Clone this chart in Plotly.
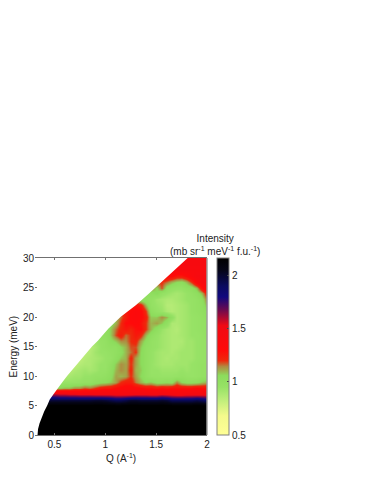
import plotly.graph_objects as go

Q = [0.35,0.40,0.45,0.50,0.55,0.60,0.65,0.70,0.75,0.80,0.85,0.90,0.95,1.00,1.05,1.10,1.15,
     1.20,1.25,1.30,1.35,1.40,1.45,1.50,1.55,1.60,1.65,1.70,1.75,1.80,1.85,1.90,1.95,2.00,2.05]
E = [float(i) for i in range(31)]
K = 2.2
# intensity rows, from E = 0.5 up to E = 29.5
row_00 = [K]*34
row_01 = [K]*34
row_02 = [K]*34
row_03 = [K]*34
row_04 = [K]*34
row_05 = [K]*34
row_06 = [1.98,1.98,1.98,1.98,1.98,1.98,1.98,1.98,1.98,1.98,1.98,2.0,2.0,1.98,1.95,1.92,1.92,1.95,2.0,2.0,1.98,1.98,1.98,1.98,2.0,1.98,1.92,1.92,1.92,1.92,1.92,1.95,1.92,1.88]
row_07 = [1.6,1.6,1.6,1.6,1.56,1.56,1.54,1.54,1.52,1.52,1.52,1.5,1.5,1.5,1.5,1.48,1.48,1.48,1.48,1.5,1.5,1.5,1.48,1.48,1.52,1.5,1.48,1.46,1.46,1.48,1.48,1.48,1.48,1.48]
row_08 = [1.08,1.08,1.08,1.08,1.08,1.1,1.1,1.14,1.14,1.18,1.16,1.2,1.24,1.26,1.26,1.3,1.32,1.34,1.34,1.32,1.3,1.28,1.28,1.26,1.28,1.26,1.28,1.28,1.28,1.28,1.28,1.3,1.28,1.28]
row_09 = [0.9,0.9,0.9,0.9,0.92,0.95,0.95,0.95,0.96,0.98,0.98,1.02,1.04,1.05,1.08,1.12,1.2,1.24,1.24,1.15,1.1,1.06,1.08,1.03,1.03,1.05,1.03,1.14,1.06,1.03,1.03,1.04,1.08,1.1]
row_10 = [0.85,0.85,0.85,0.85,0.85,0.88,0.9,0.92,0.92,0.95,0.95,0.98,0.98,1.0,1.04,1.12,1.1,1.12,1.2,1.12,1.06,1.0,0.96,0.96,0.95,0.95,0.95,0.96,0.98,0.96,0.95,0.96,0.98,1.0]
row_11 = [0.8,0.8,0.8,0.8,0.8,0.8,0.85,0.88,0.9,0.92,0.9,0.92,0.96,0.96,1.02,1.1,1.14,1.12,1.22,1.1,1.08,1.0,0.95,0.95,0.93,0.93,0.93,0.93,0.95,0.93,0.95,0.96,0.98,0.98]
row_12 = [0.75,0.75,0.75,0.75,0.75,0.75,0.8,0.82,0.86,0.88,0.88,0.92,0.95,0.95,1.0,1.08,1.14,1.12,1.2,1.12,1.06,1.0,0.95,0.92,0.9,0.9,0.9,0.92,0.92,0.92,0.95,0.96,0.98,0.98]
row_13 = [0.7,0.7,0.7,0.7,0.7,0.7,0.72,0.78,0.82,0.86,0.88,0.9,0.92,0.95,0.96,1.02,1.08,1.1,1.22,1.12,1.06,1.0,0.96,0.92,0.9,0.88,0.9,0.9,0.92,0.92,0.92,0.95,0.96,0.98]
row_14 = [0.7,0.7,0.7,0.7,0.7,0.7,0.7,0.7,0.78,0.84,0.86,0.92,0.95,0.95,0.98,1.0,1.04,1.1,1.16,1.2,1.06,1.0,0.96,0.92,0.9,0.9,0.88,0.9,0.92,0.92,0.92,0.95,0.96,0.98]
row_15 = [0.8]*9+[0.8,0.85,0.9,0.95,0.98,1.0,1.0,1.06,1.1,1.18,1.18,1.08,1.0,0.98,0.95,0.92,0.9,0.88,0.88,0.9,0.92,0.92,0.95,0.96,0.98]
row_16 = [0.9]*10+[0.88,0.92,0.96,0.98,1.04,1.08,1.14,1.14,1.2,1.22,1.12,1.04,0.98,0.95,0.92,0.9,0.88,0.88,0.88,0.92,0.92,0.95,0.96,0.98]
row_17 = [0.95]*11+[0.95,0.98,1.0,1.08,1.18,1.24,1.16,1.2,1.26,1.22,1.1,1.02,0.96,0.92,0.9,0.88,0.88,0.9,0.92,0.95,0.95,0.96,1.0]
row_18 = [0.98]*12+[0.98,1.0,1.08,1.16,1.22,1.26,1.22,1.28,1.3,1.2,1.1,1.02,0.94,0.9,0.88,0.86,0.9,0.92,0.95,0.96,0.98,1.0]
row_19 = [1.0]*13+[1.0,1.04,1.1,1.2,1.3,1.3,1.32,1.28,1.2,1.1,1.12,1.08,1.0,0.88,0.88,0.9,0.92,0.95,0.96,0.98,1.0]
row_20 = [1.0]*14+[1.04,1.1,1.16,1.24,1.32,1.34,1.32,1.24,1.08,1.08,1.14,1.1,1.0,0.88,0.9,0.92,0.95,0.96,0.98,1.02]
row_21 = [1.05]*15+[1.1,1.2,1.26,1.3,1.34,1.32,1.2,1.02,0.96,0.94,0.88,0.86,0.88,0.9,0.92,0.96,0.98,1.0,1.04]
row_22 = [1.1]*17+[1.2,1.24,1.26,1.24,1.1,0.98,0.94,0.92,0.86,0.86,0.88,0.9,0.92,0.96,0.98,1.0,1.1]
row_23 = [1.05]*19+[1.04,1.0,1.0,0.98,0.92,0.9,0.88,0.88,0.9,0.92,0.95,0.96,0.98,1.02,1.16]
row_24 = [1.05]*21+[1.0,1.02,1.06,0.98,0.95,0.92,0.9,0.92,0.95,0.98,1.02,1.1,1.25]
row_25 = [1.15]*23+[1.06,1.18,1.02,0.98,0.96,0.96,1.0,1.02,1.1,1.28,1.42]
row_26 = [1.2]*25+[1.16,1.1,1.06,1.04,1.1,1.2,1.35,1.42,1.42]
row_27 = [1.3]*27+[1.25,1.25,1.3,1.38,1.42,1.42,1.42]
row_28 = [1.4]*34
row_29 = [1.42]*34
rows = [row_00,row_01,row_02,row_03,row_04,row_05,row_06,row_07,row_08,row_09,
        row_10,row_11,row_12,row_13,row_14,row_15,row_16,row_17,row_18,row_19,
        row_20,row_21,row_22,row_23,row_24,row_25,row_26,row_27,row_28,row_29,row_29]
Z = [r + [r[-1]] for r in rows]

# lower Q limit of the measured region as a function of energy
edge_E = [0,1,2,3,4,5,6,7,8,9,10,12,14,15,16,18,20,22,24,26,28,30,30]
edge_Q = [0.335,0.34,0.355,0.375,0.40,0.43,0.455,0.495,0.535,0.58,0.625,0.72,0.82,0.87,0.93,1.03,1.15,1.30,1.43,1.56,1.68,1.81,0.30]
mask_Q = edge_Q + [0.30, 0.30]
mask_E = edge_E + [0, 0]

CMIN, CMAX = 0.5, 2.166
cstops = [(0.5,"#ffff96"),(0.68,"#f4fa8c"),(0.85,"#b8ec78"),(0.95,"#97e266"),(1.06,"#8cdc5c"),
          (1.145,"#b08a40"),(1.2,"#ee2a0c"),(1.3,"#ff0a0a"),(1.53,"#f00a14"),(1.68,"#6a0a50"),
          (1.8,"#10087e"),(1.9,"#0a0a60"),(2.05,"#050518"),(2.166,"#000000")]
cscale = [[(v-CMIN)/(CMAX-CMIN), c] for v, c in cstops]

FONT = "Liberation Sans"
TF = dict(family=FONT, size=10, color="#222")
fig = go.Figure()
fig.add_trace(go.Heatmap(
    x=Q, y=E, z=Z, zmin=CMIN, zmax=CMAX, colorscale=cscale, zsmooth="best", hoverinfo="skip",
    colorbar=dict(
        thickness=12, len=1, lenmode="fraction", y=0, yanchor="bottom", x=1.0, xref="paper",
        xanchor="left", xpad=9.5, ypad=0, outlinecolor="#808080", outlinewidth=1,
        tickvals=[0.5,1,1.5,2], ticktext=["0.5","1","1.5","2"], ticks="inside", ticklen=2, tickcolor="#444",
        tickfont=TF,
    ),
))
fig.add_trace(go.Scatter(x=mask_Q, y=mask_E, mode="lines", fill="toself", fillcolor="white",
                         line=dict(width=0, color="white"), hoverinfo="skip", showlegend=False))
axis = dict(showgrid=False, zeroline=False, ticks="inside", ticklen=2, tickcolor="#707070",
            automargin=False, tickfont=TF)
fig.update_layout(
    width=366, height=476, margin=dict(l=27, r=167, t=250, b=48.5, autoexpand=False),
    paper_bgcolor="white", plot_bgcolor="white", showlegend=False,
    font=TF,
    xaxis=dict(axis, range=[0.31,2.0], tickvals=[0.5,1,1.5,2], ticktext=["0.5","1","1.5","2"],
               showline=True, linecolor="#707070", linewidth=1, mirror="ticks"),
    yaxis=dict(axis, range=[0,30], tickvals=[0,5,10,15,20,25,30], showline=False),
    shapes=[dict(type="line", xref="paper", yref="paper", x0=1, x1=1, y0=0, y1=1,
                 line=dict(color="#707070", width=1))],
    annotations=[
        dict(xref="paper", yref="paper", x=1.049, y=1.0, yshift=-1, xanchor="center", yanchor="bottom",
             showarrow=False, align="center", font=TF,
             text="Intensity<br>(mb sr<sup>-1</sup> meV<sup>-1</sup> f.u.<sup>-1</sup>)"),
        dict(xref="paper", yref="paper", x=0.5, y=0, yshift=-15, xanchor="center", yanchor="top",
             showarrow=False, font=TF, text="Q (A<sup>-1</sup>)"),
        dict(xref="paper", yref="paper", x=0, y=0.5, xshift=-22, textangle=-90, xanchor="center", yanchor="middle",
             showarrow=False, font=TF, text="Energy (meV)"),
    ],
)
fig.write_html("out.html")
